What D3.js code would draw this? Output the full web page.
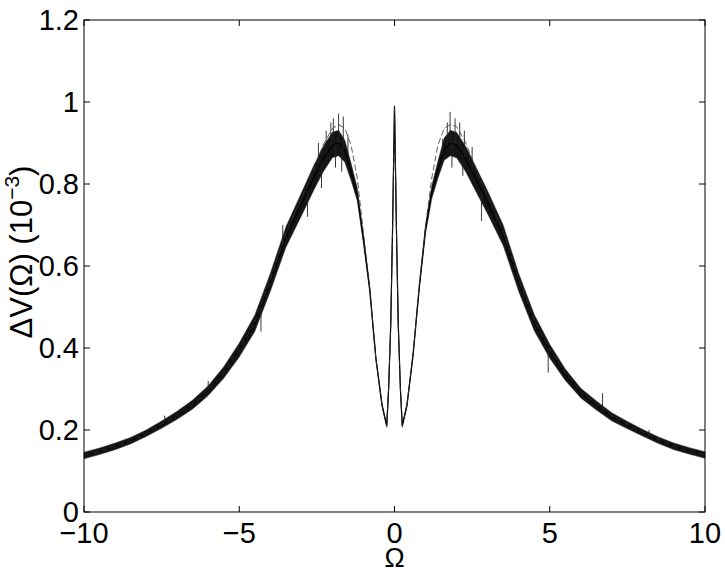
<!DOCTYPE html>
<html>
<head>
<meta charset="utf-8">
<script src="https://cdn.jsdelivr.net/npm/d3@7"></script>
<style>
  html, body { margin: 0; padding: 0; background: #fff; }
  svg text { font-family: "Liberation Sans", Arial, Helvetica, sans-serif; fill: #000; }
</style>
</head>
<body>
<svg id="chart" width="725" height="575"></svg>
<script>
'use strict'

// Omega samples
var omega = [-10, -9.5, -9, -8.5, -8, -7.5, -7, -6.5, -6, -5.5, -5, -4.5, -4, -3.5, -3,
  -2.6, -2.3, -2.0, -1.8, -1.6, -1.4, -1.2, -1.0, -0.8, -0.6, -0.4, -0.25, -0.19, -0.12, -0.06,
  0, 0.06, 0.12, 0.19, 0.25, 0.4, 0.6, 0.8, 1.0, 1.2, 1.4, 1.6, 1.8, 2.0, 2.3, 2.6,
  3, 3.5, 4, 4.5, 5, 5.5, 6, 6.5, 7, 7.5, 8, 8.5, 9, 9.5, 10]

// centre of the noisy measured curve (units of 1e-3)
var measured = [0.138, 0.148, 0.160, 0.174, 0.192, 0.213, 0.236, 0.262, 0.296, 0.340, 0.395, 0.460, 0.560, 0.670, 0.750,
  0.815, 0.860, 0.895, 0.900, 0.880, 0.830, 0.775, 0.665, 0.545, 0.375, 0.260, 0.210, 0.300, 0.460, 0.700,
  0.990, 0.700, 0.460, 0.300, 0.210, 0.260, 0.385, 0.550, 0.690, 0.780, 0.835, 0.885, 0.900, 0.895, 0.860, 0.815,
  0.755, 0.675, 0.560, 0.462, 0.392, 0.335, 0.290, 0.260, 0.232, 0.212, 0.193, 0.175, 0.160, 0.149, 0.139]

// half height of the dark noise band
var spread = [0.008, 0.008, 0.008, 0.008, 0.008, 0.009, 0.010, 0.011, 0.012, 0.014, 0.017, 0.020, 0.022, 0.025, 0.028,
  0.030, 0.031, 0.031, 0.031, 0.027, 0.021, 0.016, 0.011, 0.007, 0.004, 0.004, 0.004, 0.002, 0.001, 0.001,
  0.001, 0.001, 0.001, 0.002, 0.004, 0.004, 0.004, 0.007, 0.011, 0.016, 0.021, 0.027, 0.031, 0.031, 0.031, 0.030,
  0.028, 0.025, 0.022, 0.020, 0.017, 0.014, 0.012, 0.011, 0.010, 0.009, 0.008, 0.008, 0.008, 0.008, 0.008]

// smooth (dashed) curve, only visible above the band near the two maxima
var theory = [0.138, 0.148, 0.160, 0.174, 0.192, 0.213, 0.236, 0.262, 0.296, 0.340, 0.395, 0.462, 0.565, 0.680, 0.765,
  0.835, 0.895, 0.935, 0.945, 0.936, 0.895, 0.815, 0.680, 0.550, 0.375, 0.260, 0.210, 0.300, 0.460, 0.700,
  0.990, 0.700, 0.460, 0.300, 0.210, 0.260, 0.385, 0.555, 0.695, 0.815, 0.895, 0.936, 0.945, 0.940, 0.900, 0.840,
  0.770, 0.685, 0.565, 0.465, 0.395, 0.338, 0.292, 0.262, 0.234, 0.213, 0.194, 0.176, 0.160, 0.149, 0.139]

// the tallest noise spikes that stick out of the band
var spikeOmega = [-2.45, -2.2, -2.05, -1.97, -1.8, -1.65, -1.5, -2.35, -1.9, -1.7, -2.8, -3.6, -4.3, -6.0, -7.4,
  1.55, 1.7, 1.79, 1.95, 2.1, 2.25, 2.5, 1.85, 2.2, 2.8, 3.3, 4.95, 6.7, 8.2]
var spikeValue = [0.90, 0.93, 0.95, 0.96, 0.972, 0.965, 0.92, 0.79, 0.84, 0.83, 0.72, 0.70, 0.44, 0.32, 0.235,
  0.91, 0.95, 0.976, 0.96, 0.95, 0.93, 0.89, 0.84, 0.82, 0.71, 0.72, 0.34, 0.29, 0.20]

var xTicks = [-10, -5, 0, 5, 10]
var yTicks = [0, 0.2, 0.4, 0.6, 0.8, 1, 1.2]

var width = 725
var height = 575
var margin = { left: 84, right: 20, top: 20, bottom: 63 }
var fontSize = 29
var labelSize = 31

var svg = d3.select('#chart')

var x = d3.scaleLinear().domain([-10, 10]).range([margin.left, width - margin.right])
var y = d3.scaleLinear().domain([0, 1.2]).range([height - margin.bottom, margin.top])
var centre = d3.scaleLinear().domain(omega).range(measured)

var rows = omega.map((w, i) => ({ w: w, v: measured[i], s: spread[i], t: theory[i] }))

var plot = svg.append('g')

// noise band
plot.append('path')
  .datum(rows)
  .attr('fill', '#151515')
  .attr('stroke', '#333')
  .attr('stroke-width', 0.5)
  .attr('d', d3.area()
    .x((d) => x(d.w))
    .y0((d) => y(d.v - d.s))
    .y1((d) => y(d.v + d.s))
  )

plot.append('path')
  .datum(rows)
  .attr('fill', 'none')
  .attr('stroke', '#000')
  .attr('stroke-width', 1.2)
  .attr('d', d3.line().x((d) => x(d.w)).y((d) => y(d.v)))

plot.selectAll('line.spike')
  .data(spikeOmega)
  .enter().append('line')
    .attr('class', 'spike')
    .attr('x1', (d) => x(d))
    .attr('x2', (d) => x(d))
    .attr('y1', (d) => y(centre(d)))
    .attr('y2', (d, i) => y(spikeValue[i]))
    .attr('stroke', '#222')
    .attr('stroke-width', 0.9)

plot.append('path')
  .datum(rows)
  .attr('fill', 'none')
  .attr('stroke', '#333')
  .attr('stroke-width', 0.8)
  .attr('stroke-dasharray', '6,3')
  .attr('d', d3.line().x((d) => x(d.w)).y((d) => y(d.t)))

// box and inward ticks, matlab style
var x0 = x.range()[0]
var x1 = x.range()[1]
var y0 = y.range()[0]
var y1 = y.range()[1]
var tick = 6

svg.append('rect')
  .attr('x', x0).attr('y', y1)
  .attr('width', x1 - x0).attr('height', y0 - y1)
  .attr('fill', 'none').attr('stroke', '#000').attr('stroke-width', 1)

var axes = svg.append('g').attr('stroke', '#000').attr('stroke-width', 1)

xTicks.forEach((t) => {
  axes.append('line').attr('x1', x(t)).attr('x2', x(t)).attr('y1', y0).attr('y2', y0 - tick)
  axes.append('line').attr('x1', x(t)).attr('x2', x(t)).attr('y1', y1).attr('y2', y1 + tick)
})
yTicks.forEach((t) => {
  axes.append('line').attr('x1', x0).attr('x2', x0 + tick).attr('y1', y(t)).attr('y2', y(t))
  axes.append('line').attr('x1', x1).attr('x2', x1 - tick).attr('y1', y(t)).attr('y2', y(t))
})

var fmt = (v) => (v < 0 ? '\u2212' + Math.abs(v) : String(v))

svg.append('g').selectAll('text')
  .data(xTicks)
  .enter().append('text')
    .attr('x', (d) => x(d))
    .attr('y', y0 + 31)
    .attr('text-anchor', 'middle')
    .attr('font-size', fontSize)
    .text(fmt)

svg.append('g').selectAll('text')
  .data(yTicks)
  .enter().append('text')
    .attr('x', x0 - 5)
    .attr('y', (d) => y(d) + 10)
    .attr('text-anchor', 'end')
    .attr('font-size', fontSize)
    .text(fmt)

svg.append('text')
  .attr('x', x(0))
  .attr('y', 567)
  .attr('text-anchor', 'middle')
  .attr('font-size', 27)
  .text('\u03A9')

var ylab = svg.append('text')
  .attr('transform', 'translate(32,252) rotate(-90)')
  .attr('text-anchor', 'middle')
  .attr('font-size', labelSize)
ylab.append('tspan').text('\u0394V(\u03A9) (10')
ylab.append('tspan').attr('dy', -13).attr('font-size', 21).text('\u22123')
ylab.append('tspan').attr('dy', 13).text(')')
</script>
</body>
</html>
